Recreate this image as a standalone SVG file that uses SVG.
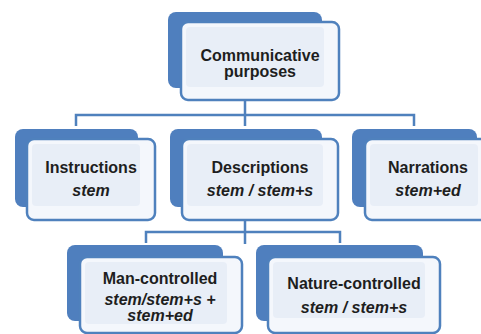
<svg xmlns="http://www.w3.org/2000/svg" width="481" height="334" viewBox="0 0 481 334">
<style>
.back{fill:#4f7fbe;}
.front{fill:#f4f7fc;stroke:#4f81bd;stroke-width:2.5;}
.inner{fill:#e8eef7;}
.conn{fill:none;stroke:#4f81bd;stroke-width:2.5;}
text{font-family:"Liberation Sans",Arial,sans-serif;font-size:16px;fill:#1e1e1e;text-anchor:middle;}
.b{font-weight:bold;}
.i{font-weight:bold;font-style:italic;}
</style>
<rect width="481" height="334" fill="#ffffff"/>
<g id="connectors">
<path class="conn" d="M245 100 V126 M76 126 V115 H414 V126"/>
<path class="conn" d="M245 220 V244 M146 243 V232 H340 V243"/>
</g>
<g id="node-communicative">
<rect class="back" x="168" y="12" width="154" height="76" rx="8"/>
<rect class="front" x="181" y="22" width="158" height="78" rx="7"/>
<rect class="inner" x="186" y="27" width="138" height="60" rx="4"/>
<text class="b" x="260" y="61">Communicative</text>
<text class="b" x="260" y="77">purposes</text>
</g>
<g id="node-instructions">
<rect class="back" x="15" y="129" width="123" height="78" rx="8"/>
<rect class="front" x="27" y="139" width="128" height="81" rx="7"/>
<rect class="inner" x="32" y="144" width="108" height="62" rx="4"/>
<text class="b" x="91" y="173">Instructions</text>
<text class="i" x="91" y="196">stem</text>
</g>
<g id="node-descriptions">
<rect class="back" x="170" y="129" width="152" height="78" rx="8"/>
<rect class="front" x="182" y="139" width="156" height="81" rx="7"/>
<rect class="inner" x="187" y="144" width="136" height="62" rx="4"/>
<text class="b" x="260" y="173">Descriptions</text>
<text class="i" x="260" y="196">stem / stem+s</text>
</g>
<g id="node-narrations">
<rect class="back" x="352" y="129" width="125" height="78" rx="8"/>
<rect class="front" x="365" y="139" width="128" height="81" rx="7"/>
<rect class="inner" x="370" y="144" width="108" height="62" rx="4"/>
<text class="b" x="428" y="173">Narrations</text>
<text class="i" x="428" y="196">stem+ed</text>
</g>
<g id="node-man-controlled">
<rect class="back" x="67" y="245" width="156" height="76" rx="8"/>
<rect class="front" x="80" y="257" width="162" height="76" rx="7"/>
<rect class="inner" x="85" y="262" width="142" height="62" rx="4"/>
<text class="b" x="160" y="284">Man-controlled</text>
<text class="i" x="160" y="305">stem/stem+s +</text>
<text class="i" x="160" y="321">stem+ed</text>
</g>
<g id="node-nature-controlled">
<rect class="back" x="256" y="245" width="167" height="76" rx="8"/>
<rect class="front" x="268" y="257" width="172" height="76" rx="7"/>
<rect class="inner" x="273" y="262" width="152" height="56" rx="4"/>
<text class="b" x="354" y="289">Nature-controlled</text>
<text class="i" x="354" y="313">stem / stem+s</text>
</g>
</svg>
